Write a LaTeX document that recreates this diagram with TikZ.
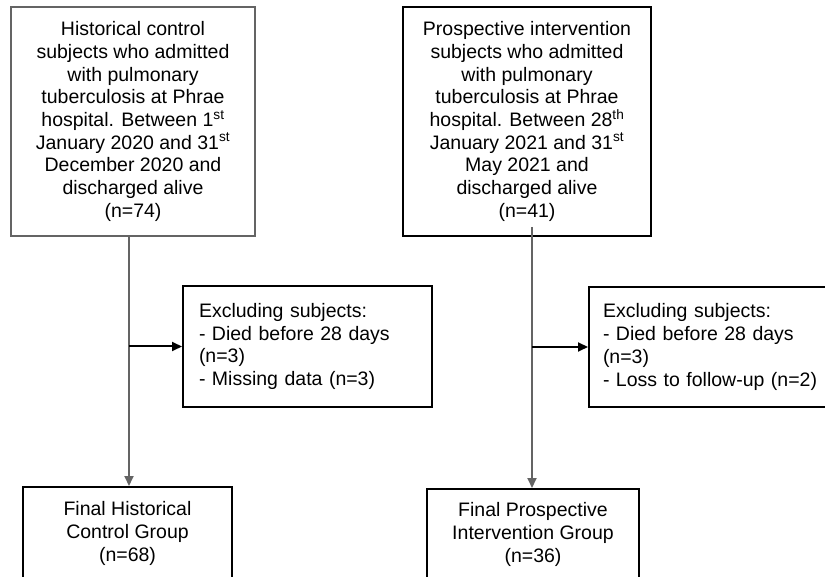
\documentclass[tikz,border=0pt]{standalone}
\usepackage{fontspec}
\setmainfont{Liberation Sans}
\usetikzlibrary{arrows.meta}
\definecolor{linegray}{RGB}{100,100,100}
\tikzset{
  box/.style={draw=black, line width=2pt, align=center, inner sep=0pt,
    font=\fontsize{19.5}{22.7}\selectfont},
  listbox/.style={box, align=left, inner xsep=15pt},
  grayline/.style={draw=linegray, line width=2pt},
  grayarrow/.style={grayline, -{Triangle[length=10pt,width=9pt]}},
  blackarrow/.style={draw=black, line width=2pt, -{Triangle[length=10pt,width=9pt]}}
}

\begin{document}
\begin{tikzpicture}[x=1pt,y=-1pt]
\useasboundingbox (0,0) rectangle (825,577);
\clip (0,0) rectangle (825,577);

% cohorts
\node[box, draw=linegray, minimum width=244, minimum height=229] (histall) at (133,121.5)
  {Historical control\\subjects who admitted\\with pulmonary\\tuberculosis at Phrae\\hospital. Between 1\textsuperscript{st}\\January 2020 and 31\textsuperscript{st}\\December 2020 and\\discharged alive\\(n=74)};
\node[box, minimum width=248, minimum height=229] (prosall) at (527,121.5)
  {Prospective intervention\\subjects who admitted\\with pulmonary\\tuberculosis at Phrae\\hospital. Between 28\textsuperscript{th}\\January 2021 and 31\textsuperscript{st}\\May 2021 and\\discharged alive\\(n=41)};

% exclusions
\node[listbox, text width=217, minimum width=249, minimum height=121] (histexcl) at (307.5,346.5)
  {Excluding subjects:\\- Died before 28 days\\(n=3)\\- Missing data (n=3)\\[6pt]};
\node[listbox, inner xsep=14pt, text width=243, minimum width=271, minimum height=120] (prosexcl) at (724.5,347)
  {Excluding subjects:\\- Died before 28 days\\(n=3)\\- Loss to follow-up (n=2)\\[6pt]};

% final groups
\node[box, minimum width=209, minimum height=93] (histfinal) at (127.5,533.5)
  {Final Historical\\Control Group\\(n=68)};
\node[box, minimum width=212, minimum height=91] (prosfinal) at (533,534.5)
  {Final Prospective\\Intervention Group\\(n=36)};

\coordinate (lsplit) at (129,346.5);
\coordinate (rsplit) at (532,347);
\coordinate (rtop) at (532,227);

\draw[grayarrow] (histall.south -| lsplit) -- (histfinal.north -| lsplit);
\draw[blackarrow] (lsplit) -- (histexcl.west);
\draw[grayarrow] (rtop) -- (prosfinal.north -| rtop);
\draw[blackarrow] (rsplit) -- (prosexcl.west);
\end{tikzpicture}
\end{document}
